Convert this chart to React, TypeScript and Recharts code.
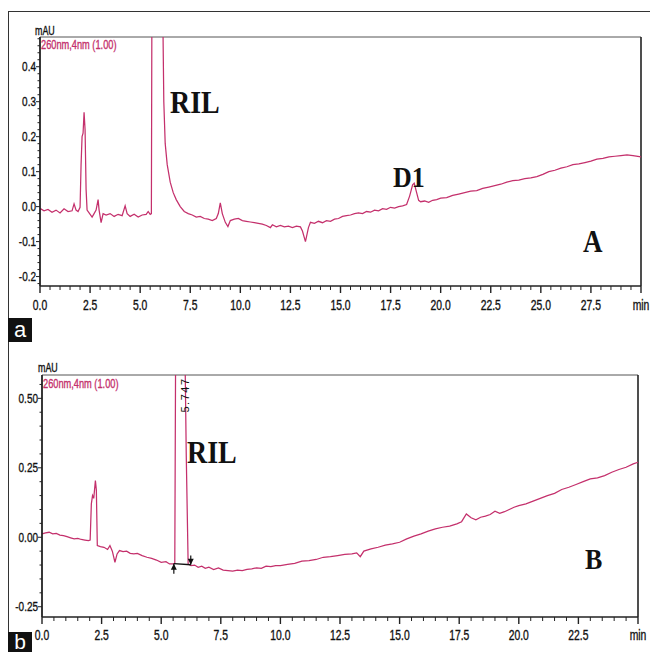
import React from "react";
import {
    LineChart,
    Line,
    XAxis,
    YAxis,
    ReferenceLine,
    ReferenceDot,
} from "recharts";

// panel a: retention time (min) and absorbance (mAU)
const timeA = [
    0.0, 0.2, 0.4, 0.6, 0.8, 1.0, 1.2, 1.4, 1.6, 1.7, 1.8, 1.9, 2.0, 2.05, 2.1, 2.15, 2.2, 2.25, 2.3, 2.35,
    2.45, 2.6, 2.7, 2.8, 2.9, 2.95, 3.05, 3.15, 3.3, 3.5, 3.7, 3.9, 4.1, 4.25, 4.35, 4.5, 4.7, 4.9, 5.1, 5.3,
    5.4, 5.5, 5.56, 5.6, 5.8, 6.0, 6.12, 6.18, 6.25, 6.35, 6.5, 6.65, 6.8, 7.0, 7.2, 7.4, 7.6, 7.8, 8.0, 8.2,
    8.4, 8.6, 8.8, 8.9, 9.0, 9.1, 9.25, 9.38, 9.5, 9.7, 9.9, 10.1, 10.3, 10.5, 10.7, 10.9, 11.1, 11.3, 11.5, 11.6,
    11.8, 12.0, 12.2, 12.4, 12.6, 12.8, 13.0, 13.1, 13.25, 13.4, 13.5, 13.7, 13.9, 14.1, 14.3, 14.5, 14.7, 14.9, 15.1, 15.3,
    15.5, 15.7, 15.9, 16.1, 16.3, 16.5, 16.7, 16.9, 17.1, 17.3, 17.5, 17.7, 17.9, 18.1, 18.3, 18.45, 18.6, 18.68, 18.8, 18.9,
    19.0, 19.2, 19.4, 19.6, 19.8, 20.0, 20.3, 20.6, 20.9, 21.2, 21.5, 21.8, 22.1, 22.4, 22.7, 23.0, 23.3, 23.6, 23.9, 24.2,
    24.5, 24.8, 25.1, 25.4, 25.7, 26.0, 26.3, 26.6, 26.9, 27.2, 27.5, 27.8, 28.1, 28.4, 28.7, 29.0, 29.3, 29.6, 30.0,
];
const signalA = [
    -0.005, -0.012, -0.008, -0.016, -0.01, -0.018, -0.006, -0.014, -0.012, 0.008, -0.01, -0.014, -0.002, 0.12, 0.2, 0.21, 0.27, 0.22, 0.05, -0.01,
    -0.018, -0.03, -0.02, -0.01, 0.02, -0.01, -0.046, -0.02, -0.024, -0.02, -0.028, -0.022, -0.026, 0.002, -0.02, -0.028, -0.022, -0.03, -0.024, -0.022,
    -0.014, -0.022, -0.02, 0.9, 1.8, 1.6, 0.6, 0.3, 0.18, 0.12, 0.07, 0.04, 0.02, 0.0, -0.014, -0.02, -0.024, -0.03, -0.028, -0.034,
    -0.036, -0.04, -0.034, -0.02, 0.011, -0.02, -0.045, -0.057, -0.04, -0.036, -0.034, -0.04, -0.042, -0.044, -0.046, -0.048, -0.05, -0.054, -0.06, -0.052,
    -0.058, -0.054, -0.058, -0.056, -0.06, -0.056, -0.058, -0.07, -0.1, -0.06, -0.045, -0.048, -0.042, -0.046, -0.04, -0.042, -0.036, -0.034, -0.028, -0.026,
    -0.024, -0.02, -0.018, -0.02, -0.014, -0.016, -0.01, -0.012, -0.006, -0.008, -0.002, -0.004, 0.0, 0.002, 0.006, 0.03, 0.062, 0.067, 0.04, 0.018,
    0.014, 0.016, 0.012, 0.018, 0.02, 0.024, 0.026, 0.032, 0.036, 0.04, 0.044, 0.046, 0.052, 0.056, 0.06, 0.064, 0.07, 0.074, 0.076, 0.08,
    0.082, 0.086, 0.092, 0.1, 0.104, 0.11, 0.114, 0.12, 0.122, 0.126, 0.13, 0.136, 0.138, 0.142, 0.144, 0.146, 0.148, 0.146, 0.142,
];

// panel b
const timeB = [
    0.0, 0.15, 0.3, 0.45, 0.6, 0.75, 0.9, 1.05, 1.2, 1.35, 1.5, 1.65, 1.8, 1.95, 2.02, 2.07, 2.12, 2.17, 2.24, 2.28,
    2.32, 2.45, 2.6, 2.75, 2.85, 2.95, 3.06, 3.15, 3.25, 3.4, 3.55, 3.7, 3.85, 4.0, 4.2, 4.4, 4.6, 4.8, 5.0, 5.2,
    5.35, 5.5, 5.57, 5.62, 5.8, 5.95, 6.05, 6.13, 6.25, 6.4, 6.55, 6.7, 6.85, 7.0, 7.2, 7.4, 7.6, 7.8, 8.0, 8.2,
    8.4, 8.6, 8.8, 9.0, 9.2, 9.4, 9.6, 9.8, 10.0, 10.3, 10.6, 10.9, 11.2, 11.5, 11.8, 12.1, 12.4, 12.7, 13.0, 13.2,
    13.35, 13.5, 13.8, 14.1, 14.4, 14.7, 15.0, 15.3, 15.6, 15.9, 16.2, 16.5, 16.8, 17.1, 17.4, 17.6, 17.8, 18.0, 18.2, 18.4,
    18.6, 18.8, 19.0, 19.2, 19.4, 19.6, 19.8, 20.0, 20.3, 20.6, 20.9, 21.2, 21.5, 21.8, 22.1, 22.4, 22.7, 23.0, 23.3, 23.6,
    23.9, 24.2, 24.5, 24.8, 25.0,
];
const signalB = [
    0.012, 0.016, 0.018, 0.012, 0.014, 0.008, 0.006, 0.002, -0.002, -0.006, -0.004, -0.008, -0.01, -0.012, -0.01, 0.12, 0.15, 0.14, 0.204, 0.17,
    -0.03, -0.034, -0.036, -0.044, -0.03, -0.05, -0.09, -0.06, -0.048, -0.052, -0.05, -0.058, -0.06, -0.058, -0.066, -0.072, -0.076, -0.082, -0.09, -0.088,
    -0.096, -0.096, -0.094, 1.0, 2.5, 1.0, 0.3, -0.096, -0.102, -0.1, -0.108, -0.104, -0.112, -0.108, -0.116, -0.11, -0.118, -0.12, -0.122, -0.118,
    -0.12, -0.116, -0.114, -0.11, -0.112, -0.104, -0.106, -0.102, -0.102, -0.098, -0.094, -0.086, -0.084, -0.08, -0.072, -0.07, -0.066, -0.062, -0.06, -0.056,
    -0.07, -0.05, -0.042, -0.036, -0.028, -0.024, -0.018, -0.006, 0.004, 0.012, 0.022, 0.03, 0.036, 0.04, 0.048, 0.056, 0.084, 0.07, 0.063, 0.072,
    0.076, 0.082, 0.094, 0.086, 0.092, 0.1, 0.108, 0.114, 0.12, 0.13, 0.14, 0.15, 0.158, 0.172, 0.18, 0.19, 0.2, 0.21, 0.214, 0.222,
    0.234, 0.244, 0.252, 0.264, 0.27,
];

// integration marks on the RIL peak in panel b
const baselineB = [
    { t: 5.53, v: -0.095 },
    { t: 6.24, v: -0.099 },
];
const upArrowB = { t: 5.53, from: -0.131, to: -0.095 };
const downArrowB = { t: 6.24, from: -0.066, to: -0.099 };

const xTicksA = [
    0, 0.5, 1, 1.5, 2, 2.5, 3, 3.5, 4, 4.5, 5, 5.5, 6, 6.5, 7, 7.5, 8, 8.5, 9, 9.5,
    10, 10.5, 11, 11.5, 12, 12.5, 13, 13.5, 14, 14.5, 15, 15.5, 16, 16.5, 17, 17.5, 18, 18.5, 19, 19.5,
    20, 20.5, 21, 21.5, 22, 22.5, 23, 23.5, 24, 24.5, 25, 25.5, 26, 26.5, 27, 27.5, 28, 28.5, 29, 29.5, 30,
];
const xTicksB = [
    0, 0.5, 1, 1.5, 2, 2.5, 3, 3.5, 4, 4.5, 5, 5.5, 6, 6.5, 7, 7.5, 8, 8.5, 9, 9.5,
    10, 10.5, 11, 11.5, 12, 12.5, 13, 13.5, 14, 14.5, 15, 15.5, 16, 16.5, 17, 17.5, 18, 18.5, 19, 19.5,
    20, 20.5, 21, 21.5, 22, 22.5, 23, 23.5, 24, 24.5, 25,
];
const yTicksA = [
    -0.22, -0.2, -0.18, -0.16, -0.14, -0.12, -0.1, -0.08, -0.06, -0.04, -0.02, 0, 0.02, 0.04, 0.06, 0.08, 0.1, 0.12,
    0.14, 0.16, 0.18, 0.2, 0.22, 0.24, 0.26, 0.28, 0.3, 0.32, 0.34, 0.36, 0.38, 0.4, 0.42, 0.44, 0.46, 0.48,
];
const yTicksB = [
    -0.25, -0.2, -0.15, -0.1, -0.05, 0, 0.05, 0.1, 0.15, 0.2, 0.25, 0.3, 0.35, 0.4, 0.45, 0.5, 0.55,
];

const dataA = timeA.map((t, i) => ({ t, v: signalA[i] }));
const dataB = timeB.map((t, i) => ({ t, v: signalB[i] }));

const PINK = "#c4306c";
const AXIS = "#222";
const SANS = "'Liberation Sans', Arial, sans-serif";

const isStep = (v: number, step: number) => Math.abs(v / step - Math.round(v / step)) < 1e-6;

// narrow print-style text, squeezed horizontally
const Narrow = ({ x, y, size, anchor = "start", fill = "#111", children }: any) => (
    <text
        transform={`translate(${x},${y}) scale(0.74,1)`}
        textAnchor={anchor}
        fontSize={size}
        fontFamily={SANS}
        fill={fill}
        stroke={fill}
        strokeWidth={0.35}
    >
        {children}
    </text>
);

function makeXTick(end: number, labelDy: number) {
    return (props: any) => {
        const { x, y, payload } = props;
        const v = payload.value;
        const major = isStep(v, 2.5);
        return (
            <g>
                <line x1={x} x2={x} y1={y} y2={y + (major ? 7 : 4)} stroke={AXIS} strokeWidth={major ? 1.4 : 1} />
                {major && (
                    <Narrow x={x} y={y + labelDy} size={14} anchor="middle">
                        {v === end ? "min" : v.toFixed(1)}
                    </Narrow>
                )}
            </g>
        );
    };
}

function makeYTick(step: number, digits: number) {
    return (props: any) => {
        const { x, y, payload } = props;
        const v = payload.value;
        const major = isStep(v, step);
        return (
            <g>
                <line x1={x - (major ? 4 : 2.5)} x2={x} y1={y} y2={y} stroke={AXIS} strokeWidth={1} />
                {major && (
                    <Narrow x={x - 4} y={y + 4.5} size={13.5} anchor="end">
                        {Math.abs(v) < 1e-9 ? (0).toFixed(digits) : v.toFixed(digits)}
                    </Narrow>
                )}
            </g>
        );
    };
}

const arrowHead = (dir: "up" | "down") => (props: any) => {
    const { cx, cy } = props;
    const d = dir === "up"
        ? `M${cx},${cy} L${cx - 3},${cy + 6} L${cx + 3},${cy + 6} Z`
        : `M${cx},${cy} L${cx - 3},${cy - 6} L${cx + 3},${cy - 6} Z`;
    return <path d={d} fill="#111" />;
};

const domainA: [number, number] = [-0.227, 0.485];
const domainB: [number, number] = [-0.287, 0.584];

export default function App() {
    return (
        <div style={{ position: "absolute", left: 0, top: 0, width: 650, height: 652, background: "#fff", overflow: "hidden" }}>

            <div style={{ position: "absolute", left: 0, top: 0 }}>
                <LineChart width={650} height={330} data={dataA} margin={{ top: 37, right: 9, bottom: 14, left: 0 }}>
                    <XAxis
                        dataKey="t"
                        type="number"
                        domain={[0, 30]}
                        ticks={xTicksA}
                        interval={0}
                        tickSize={0}
                        tickMargin={0}
                        tickLine={false}
                        height={30}
                        axisLine={{ stroke: AXIS, strokeWidth: 1.6 }}
                        tick={makeXTick(30, 24)}
                    />
                    <YAxis
                        type="number"
                        domain={domainA}
                        allowDataOverflow
                        ticks={yTicksA}
                        interval={0}
                        tickSize={0}
                        tickMargin={0}
                        tickLine={false}
                        width={40}
                        axisLine={{ stroke: AXIS, strokeWidth: 1.8 }}
                        tick={makeYTick(0.1, 1)}
                    />
                    <ReferenceLine y={domainA[1]} stroke="#555" strokeWidth={1} />
                    <ReferenceLine x={30} stroke={AXIS} strokeWidth={1.6} />
                    <Line type="linear" dataKey="v" stroke={PINK} strokeWidth={1.25} dot={false} isAnimationActive={false} />
                </LineChart>
            </div>

            <div style={{ position: "absolute", left: 0, top: 330 }}>
                <LineChart width={650} height={322} data={dataB} margin={{ top: 45, right: 12, bottom: 5, left: 0 }}>
                    <XAxis
                        dataKey="t"
                        type="number"
                        domain={[0, 25]}
                        ticks={xTicksB}
                        interval={0}
                        tickSize={0}
                        tickMargin={0}
                        tickLine={false}
                        height={30}
                        axisLine={{ stroke: AXIS, strokeWidth: 1.6 }}
                        tick={makeXTick(25, 23)}
                    />
                    <YAxis
                        type="number"
                        domain={domainB}
                        allowDataOverflow
                        ticks={yTicksB}
                        interval={0}
                        tickSize={0}
                        tickMargin={0}
                        tickLine={false}
                        width={42}
                        axisLine={{ stroke: AXIS, strokeWidth: 1.8 }}
                        tick={makeYTick(0.25, 2)}
                    />
                    <ReferenceLine y={domainB[1]} stroke="#555" strokeWidth={1} />
                    <ReferenceLine x={25} stroke={AXIS} strokeWidth={1.6} />
                    <Line type="linear" dataKey="v" stroke={PINK} strokeWidth={1.25} dot={false} isAnimationActive={false} />
                    <ReferenceLine
                        segment={[{ x: baselineB[0].t, y: baselineB[0].v }, { x: baselineB[1].t, y: baselineB[1].v }]}
                        stroke="#111"
                        strokeWidth={1.3}
                    />
                    <ReferenceLine
                        segment={[{ x: upArrowB.t, y: upArrowB.from }, { x: upArrowB.t, y: upArrowB.to }]}
                        stroke="#111"
                        strokeWidth={1.2}
                    />
                    <ReferenceLine
                        segment={[{ x: downArrowB.t, y: downArrowB.from }, { x: downArrowB.t, y: downArrowB.to }]}
                        stroke="#111"
                        strokeWidth={1.2}
                    />
                    <ReferenceDot x={upArrowB.t} y={upArrowB.to} shape={arrowHead("up")} />
                    <ReferenceDot x={downArrowB.t} y={downArrowB.to} shape={arrowHead("down")} />
                </LineChart>
            </div>

            {/* frame, panel letters and annotations */}
            <svg width={650} height={652} style={{ position: "absolute", left: 0, top: 0, pointerEvents: "none" }}>
                <line x1={8} x2={650} y1={11.5} y2={11.5} stroke="#333" strokeWidth={1} />
                <line x1={8.5} x2={8.5} y1={11} y2={652} stroke="#333" strokeWidth={1} />

                <rect x={8} y={318} width={24} height={24} fill="#111" />
                <text x={20} y={337} textAnchor="middle" fontSize={22} fontFamily={SANS} fill="#fff">a</text>
                <rect x={8} y={632} width={24} height={20} fill="#111" />
                <text x={20} y={649} textAnchor="middle" fontSize={21} fontFamily={SANS} fill="#fff">b</text>

                <Narrow x={35} y={35} size={12}>mAU</Narrow>
                <Narrow x={41} y={49} size={12.5} fill={PINK}>260nm,4nm (1.00)</Narrow>
                <Narrow x={38} y={372} size={12}>mAU</Narrow>
                <Narrow x={43} y={388} size={12.5} fill={PINK}>260nm,4nm (1.00)</Narrow>

                <g fontFamily="'Liberation Serif', 'Times New Roman', serif" fontWeight="bold" fill="#111">
                    <text transform="translate(170,113) scale(1,1.15)" fontSize={28}>RIL</text>
                    <text transform="translate(393,187) scale(1,1.15)" fontSize={26}>D1</text>
                    <text transform="translate(583,252) scale(1,1.15)" fontSize={27}>A</text>
                    <text transform="translate(187,463) scale(1,1.15)" fontSize={28}>RIL</text>
                    <text transform="translate(585,569) scale(1,1.15)" fontSize={26}>B</text>
                </g>

                <text transform="translate(189,395) rotate(-90)" textAnchor="middle" fontSize={11} letterSpacing={1.5} fontFamily={SANS} fill="#111">5.747</text>
            </svg>
        </div>
    );
}
